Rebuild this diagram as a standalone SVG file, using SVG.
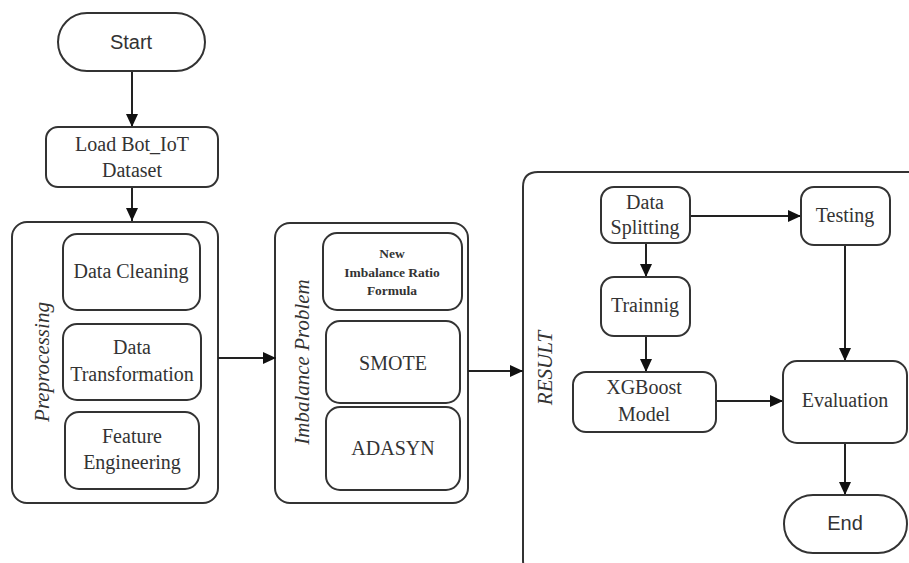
<svg xmlns="http://www.w3.org/2000/svg" width="909" height="563" viewBox="0 0 909 563">
<defs>
<style>
.box{fill:#fff;stroke:#333;stroke-width:2}
.t{font-family:"Liberation Serif","Times New Roman",serif;font-size:20px;fill:#333;text-anchor:middle}
.s{font-family:"Liberation Sans",Arial,sans-serif;font-size:20px;fill:#333;text-anchor:middle}
.b{font-family:"Liberation Serif","Times New Roman",serif;font-size:13.5px;font-weight:bold;fill:#333;text-anchor:middle}
.i{font-family:"Liberation Serif","Times New Roman",serif;font-size:21px;font-style:italic;fill:#333;text-anchor:middle}
.c{stroke:#222;stroke-width:2;fill:none;marker-end:url(#ah)}
</style>
<marker id="ah" markerUnits="userSpaceOnUse" markerWidth="14" markerHeight="14" refX="13" refY="7" orient="auto">
<path d="M0,1 L13,7 L0,13 Z" fill="#111"/>
</marker>
</defs>
<rect width="909" height="563" fill="#fff"/>

<g id="result">
<path class="box" d="M923,172 L538,172 Q523,172 523,187 L523,560 Q523,575 538,575 L923,575" />
<text class="i" transform="translate(552,368) rotate(-90)">RESULT</text>
</g>

<g id="preprocessing">
<rect class="box" x="12" y="222" width="206" height="281" rx="15"/>
<text class="i" transform="translate(49,362) rotate(-90)">Preprocessing</text>
</g>
<g id="imbalance">
<rect class="box" x="275" y="223" width="193" height="280" rx="15"/>
<text class="i" transform="translate(309,362) rotate(-90)">Imbalance Problem</text>
</g>

<g id="connectors">
<line class="c" x1="132" y1="71" x2="132" y2="127"/>
<line class="c" x1="132" y1="187" x2="132" y2="221"/>
<line class="c" x1="218" y1="358" x2="276" y2="358"/>
<line class="c" x1="468" y1="371" x2="523" y2="371"/>
<line class="c" x1="690" y1="216" x2="801" y2="216"/>
<line class="c" x1="646" y1="243" x2="646" y2="277"/>
<line class="c" x1="646" y1="336" x2="646" y2="372"/>
<line class="c" x1="845" y1="245" x2="845" y2="361"/>
<line class="c" x1="716" y1="401" x2="783" y2="401"/>
<line class="c" x1="845" y1="443" x2="845" y2="495"/>
</g>

<g id="start">
<rect class="box" x="58" y="13" width="147" height="58" rx="29"/>
<text class="s" x="131" y="49">Start</text>
</g>
<g id="load">
<rect class="box" x="46" y="127" width="172" height="60" rx="12"/>
<text class="t" x="132" y="151">Load Bot_IoT</text>
<text class="t" x="132" y="177">Dataset</text>
</g>
<g id="cleaning">
<rect class="box" x="63" y="234" width="137" height="76" rx="14"/>
<text class="t" x="131" y="278">Data Cleaning</text>
</g>
<g id="transformation">
<rect class="box" x="63" y="324" width="138" height="76" rx="14"/>
<text class="t" x="132" y="354">Data</text>
<text class="t" x="132" y="381">Transformation</text>
</g>
<g id="feature">
<rect class="box" x="65" y="412" width="134" height="77" rx="14"/>
<text class="t" x="132" y="443">Feature</text>
<text class="t" x="132" y="469">Engineering</text>
</g>
<g id="formula">
<rect class="box" x="323" y="233" width="139" height="77" rx="14"/>
<text class="b" x="392" y="258">New</text>
<text class="b" x="392" y="277">Imbalance Ratio</text>
<text class="b" x="392" y="295">Formula</text>
</g>
<g id="smote">
<rect class="box" x="326" y="321" width="134" height="82" rx="14"/>
<text class="t" x="393" y="370">SMOTE</text>
</g>
<g id="adasyn">
<rect class="box" x="326" y="407" width="134" height="83" rx="14"/>
<text class="t" x="393" y="455">ADASYN</text>
</g>
<g id="splitting">
<rect class="box" x="601" y="187" width="89" height="56" rx="13"/>
<text class="t" x="645" y="209">Data</text>
<text class="t" x="645" y="234">Splitting</text>
</g>
<g id="testing">
<rect class="box" x="801" y="187" width="89" height="58" rx="13"/>
<text class="t" x="845" y="222">Testing</text>
</g>
<g id="training">
<rect class="box" x="601" y="277" width="89" height="59" rx="13"/>
<text class="t" x="645" y="312">Trainnig</text>
</g>
<g id="xgboost">
<rect class="box" x="573" y="372" width="143" height="60" rx="13"/>
<text class="t" x="644" y="394">XGBoost</text>
<text class="t" x="644" y="421">Model</text>
</g>
<g id="evaluation">
<rect class="box" x="783" y="361" width="124" height="82" rx="14"/>
<text class="t" x="845" y="407">Evaluation</text>
</g>
<g id="end">
<rect class="box" x="784" y="495" width="123" height="58" rx="29"/>
<text class="s" x="845" y="530">End</text>
</g>
</svg>
